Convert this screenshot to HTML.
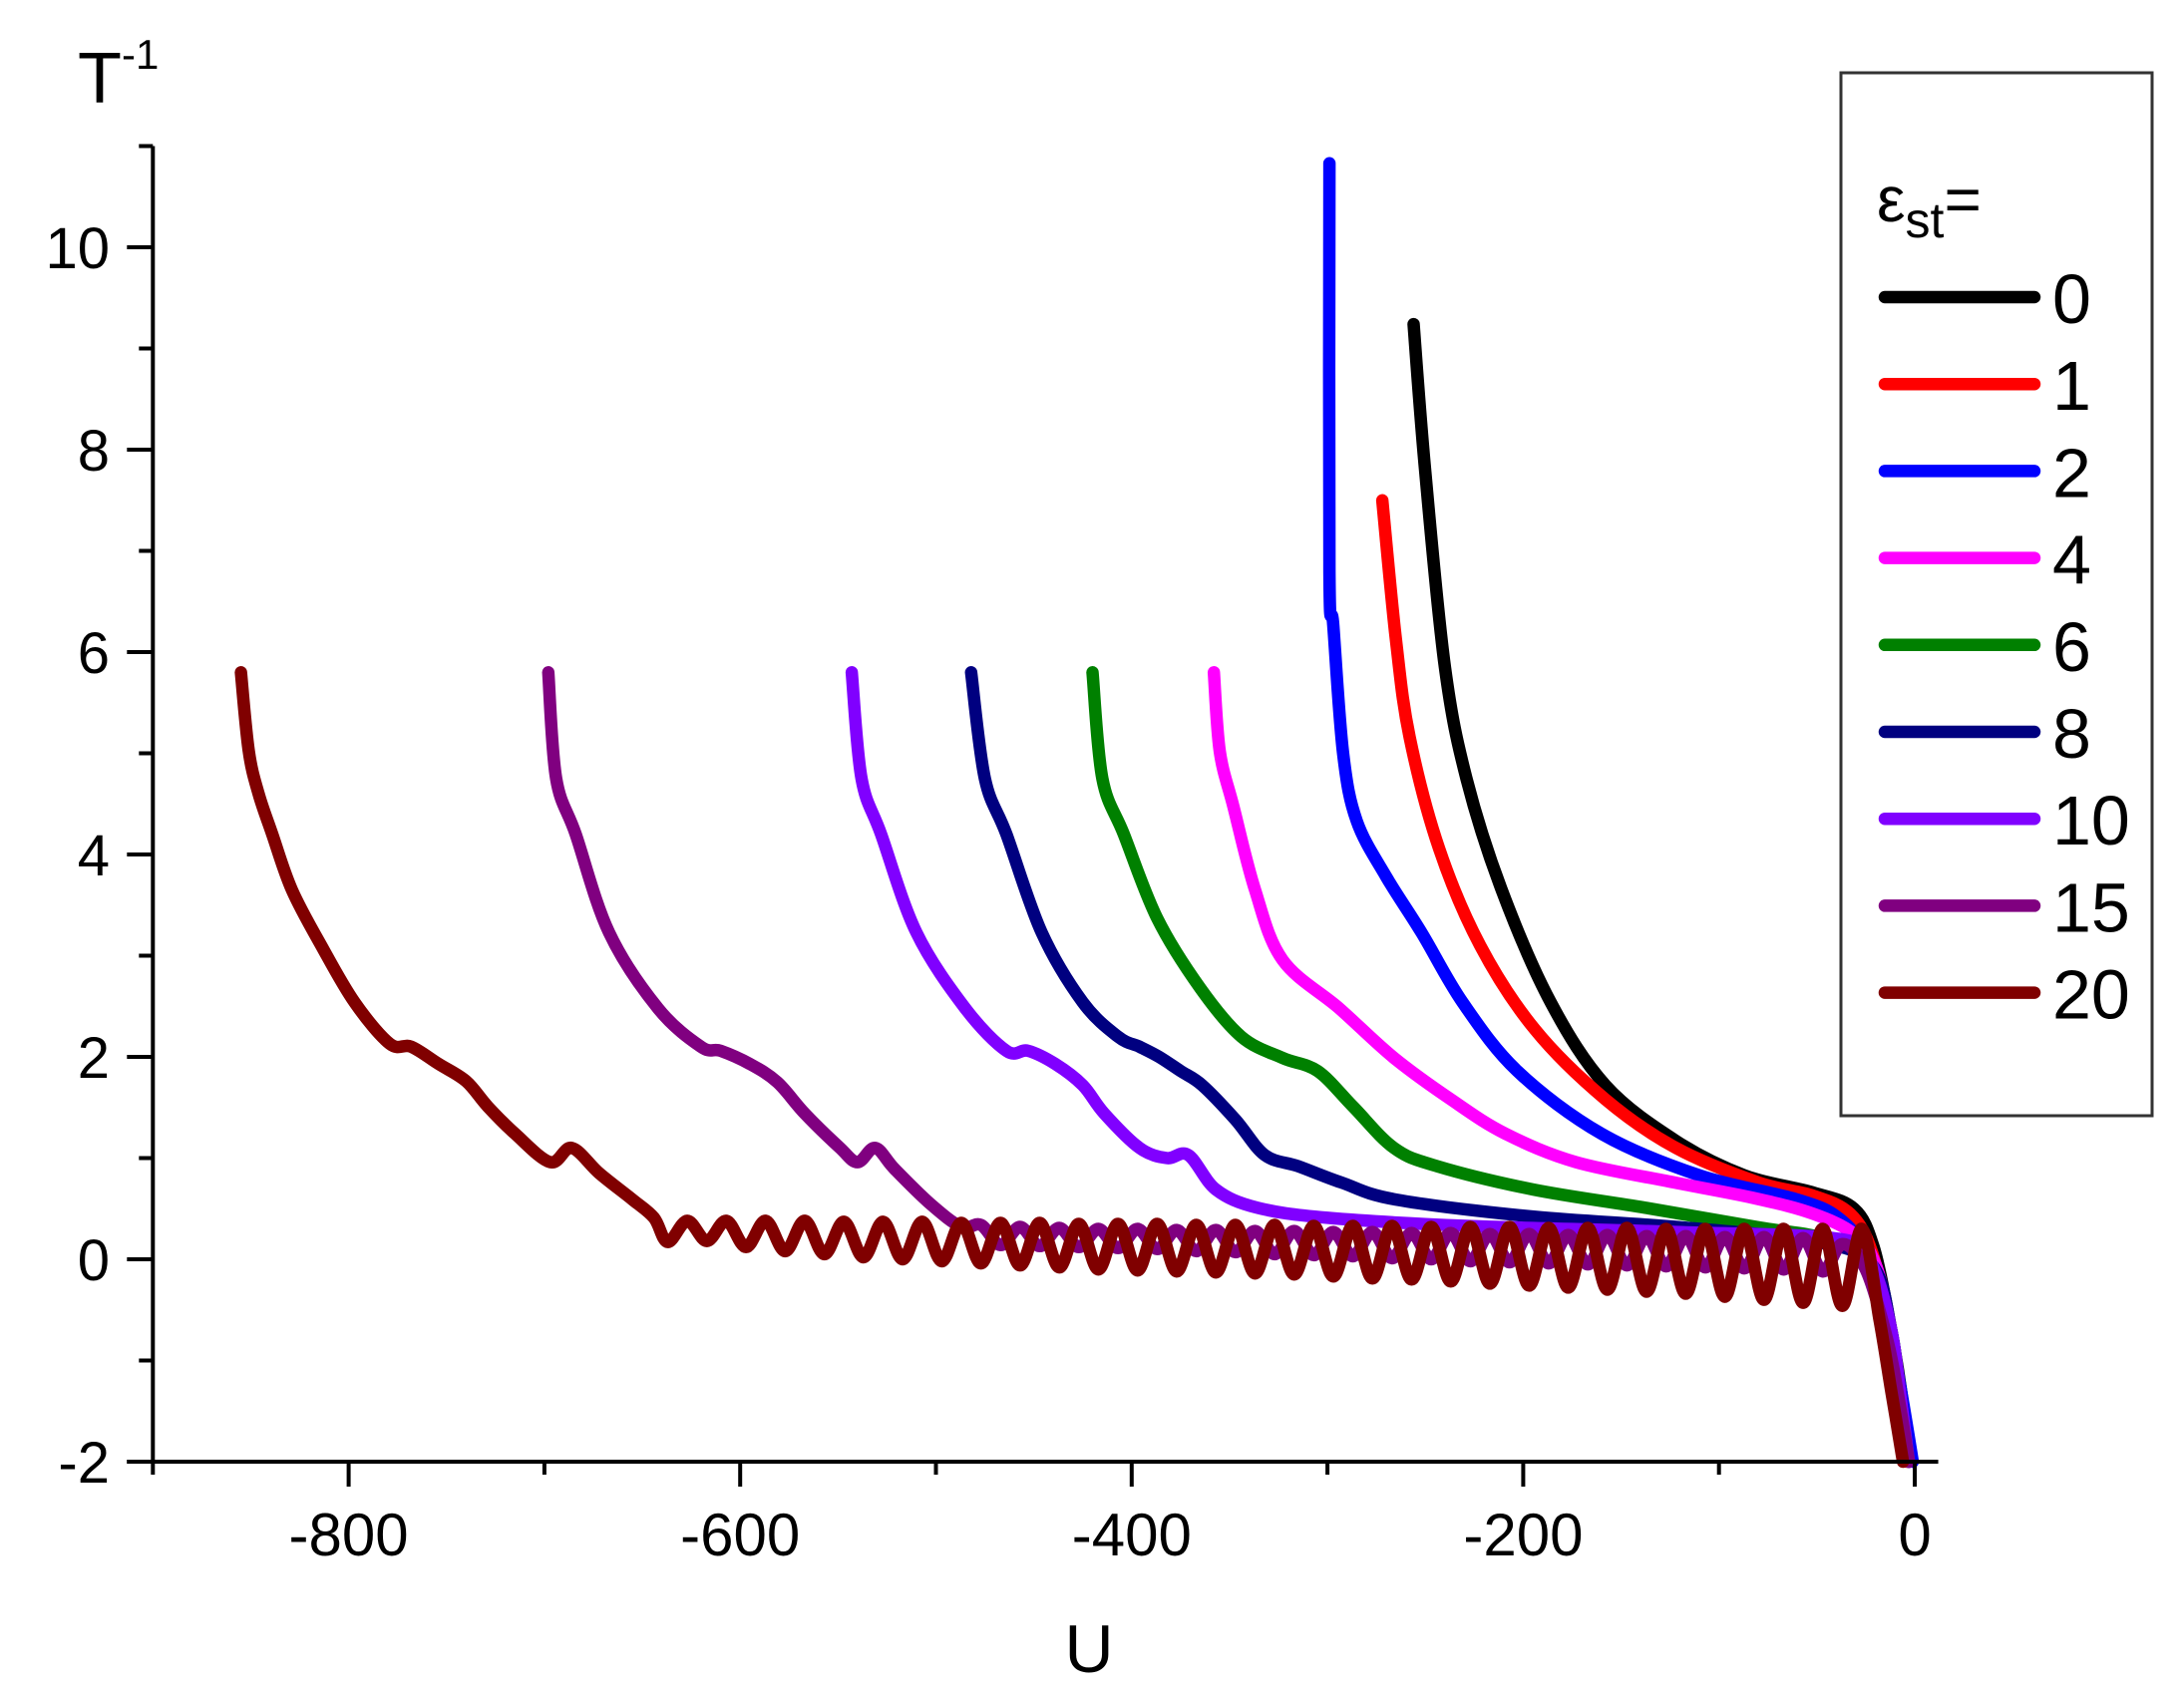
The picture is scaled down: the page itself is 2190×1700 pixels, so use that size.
<!DOCTYPE html>
<html><head><meta charset="utf-8"><style>
html,body{margin:0;padding:0;background:#fff;}
svg{display:block;font-family:"Liberation Sans",Arial,sans-serif;}
</style></head><body>
<svg id="chart" width="2190" height="1700" viewBox="0 0 2190 1700" xmlns="http://www.w3.org/2000/svg">
<rect width="2190" height="1700" fill="#fff"/>
<g id="series"></g>
<g id="axes"></g>
<g id="legend"></g>
</svg>
<script>
// ---- data ----
const xTicks = [-800, -600, -400, -200, 0];
const xMinor = [-900, -700, -500, -300, -100];
const yTicks = [-2, 0, 2, 4, 6, 8, 10];
const yMinor = [-1, 1, 3, 5, 7, 9];
const seriesLabels = ["0", "1", "2", "4", "6", "8", "10", "15", "20"];
const seriesColors = ["#000000", "#ff0000", "#0000ff", "#ff00ff", "#008000", "#000080", "#8000ff", "#800080", "#800000"];

const u0 = [-256,-250,-240,-229,-211,-186,-158,-122,-87,-52,-31,-21,-13,-7,-3];
const t0 = [9.24,7.77,5.85,4.75,3.65,2.54,1.72,1.17,0.83,0.66,0.5,0.12,-0.6,-1.3,-2];
const u1 = [-272,-265,-258,-243,-222,-194,-158,-122,-80,-52,-33,-22,-14,-8,-4];
const t1 = [7.5,6.12,5.16,4.06,3.1,2.27,1.58,1.1,0.76,0.63,0.45,0.08,-0.62,-1.3,-2];
const u2 = [-299,-299,-297,-292,-285,-270,-252,-231,-203,-160,-110,-60,-39,-25,-14,-7,-1];
const t2 = [10.83,6.8,6.26,5.0,4.33,3.78,3.23,2.54,1.86,1.24,0.83,0.59,0.41,0.07,-0.6,-1.3,-2];
const u4 = [-358,-355,-348,-337,-323,-294,-266,-237,-209,-173,-123,-81,-52,-31,-20,-12,-7,-3];
const t4 = [5.8,5.02,4.47,3.65,2.96,2.48,1.99,1.58,1.24,0.96,0.76,0.6,0.45,0.25,-0.05,-0.7,-1.4,-2];
const u6 = [-420,-415,-404,-387,-365,-344,-323,-305,-287,-266,-244,-195,-138,-81,-45,-22,-12,-7,-3];
const t6 = [5.8,4.75,4.2,3.37,2.68,2.2,1.99,1.86,1.51,1.1,0.92,0.69,0.51,0.32,0.2,-0.05,-0.7,-1.4,-2];
const u8 = [-482,-475,-464,-446,-425,-407,-396,-386,-375,-364,-347,-332,-315,-293,-265,-194,-122,-52,-22,-12,-7,-3];
const t8 = [5.8,4.75,4.2,3.23,2.54,2.2,2.1,2.0,1.86,1.72,1.38,1.03,0.92,0.76,0.59,0.42,0.32,0.18,-0.05,-0.7,-1.4,-2];
const u10 = [-543,-538,-528,-510,-485,-464,-453,-439,-425,-414,-396,-382,-371,-357,-336,-300,-229,-122,-38,-22,-12,-7,-3];
const t10 = [5.8,4.75,4.2,3.23,2.48,2.06,2.06,1.93,1.72,1.44,1.1,1.0,1.03,0.69,0.51,0.41,0.33,0.27,0.2,-0.05,-0.7,-1.4,-2];
const u15 = [-698,-694,-684,-667,-642,-620,-610,-595,-581,-567,-549,-540,-531,-521,-503,-487,-477,-467,-457,-447,-437,-427,-417,-407,-397,-387,-377,-367,-357,-347,-337,-327,-317,-307,-297,-287,-277,-267,-257,-247,-237,-227,-217,-207,-197,-187,-177,-167,-157,-147,-137,-127,-117,-107,-97,-87,-77,-67,-57,-47,-37,-25,-14,-8,-3];
const t15 = [5.8,4.75,4.2,3.23,2.48,2.1,2.06,1.93,1.75,1.44,1.1,0.96,1.1,0.89,0.55,0.32,0.34,0.14,0.32,0.13,0.31,0.12,0.3,0.11,0.3,0.1,0.29,0.08,0.29,0.07,0.28,0.05,0.28,0.04,0.27,0.03,0.27,0.01,0.26,0.0,0.26,-0.02,0.25,-0.03,0.25,-0.04,0.24,-0.05,0.24,-0.06,0.23,-0.07,0.23,-0.08,0.22,-0.09,0.22,-0.1,0.21,-0.12,0.15,-0.1,-0.8,-1.4,-2];
const u20 = [-855,-851,-846,-839,-829,-814,-797,-779,-768,-754,-740,-729,-715,-697,-686,-672,-655,-644,-637,-627,-617,-607,-597,-587,-577,-567,-557,-547,-537,-527,-517,-507,-497,-487,-477,-467,-457,-447,-437,-427,-417,-407,-397,-387,-377,-367,-357,-347,-337,-327,-317,-307,-297,-287,-277,-267,-257,-247,-237,-227,-217,-207,-197,-187,-177,-167,-157,-147,-137,-127,-117,-107,-97,-87,-77,-67,-57,-47,-37,-27,-18,-12,-6];
const t20 = [5.8,5.02,4.6,4.2,3.65,3.1,2.54,2.13,2.1,1.93,1.76,1.51,1.24,0.96,1.1,0.85,0.59,0.41,0.17,0.38,0.18,0.38,0.12,0.38,0.08,0.38,0.05,0.37,0.02,0.37,0.0,0.37,-0.02,0.36,-0.04,0.36,-0.06,0.36,-0.08,0.35,-0.1,0.35,-0.11,0.35,-0.12,0.34,-0.13,0.34,-0.14,0.34,-0.15,0.33,-0.17,0.33,-0.19,0.33,-0.2,0.32,-0.22,0.32,-0.24,0.32,-0.26,0.31,-0.28,0.31,-0.3,0.31,-0.32,0.3,-0.34,0.3,-0.37,0.3,-0.4,0.3,-0.43,0.3,-0.46,0.3,-0.6,-1.3,-2];

const seriesU = [u0,u1,u2,u4,u6,u8,u10,u15,u20];
const seriesT = [t0,t1,t2,t4,t6,t8,t10,t15,t20];

// ---- axes mapping ----
const X0 = 1920, XK = 1.963;
const Y0 = 1263, YK = 101.5;
const xs = u => X0 + u * XK;
const ys = t => Y0 - t * YK;
const NS = "http://www.w3.org/2000/svg";
function mk(tag, attrs, parent){
  const e = document.createElementNS(NS, tag);
  for (const k in attrs) e.setAttribute(k, attrs[k]);
  parent.appendChild(e);
  return e;
}
function smoothPath(pts){
  let d = "M" + pts[0][0].toFixed(1) + "," + pts[0][1].toFixed(1);
  for (let i = 0; i < pts.length - 1; i++){
    const p0 = pts[i-1] || pts[i], p1 = pts[i], p2 = pts[i+1], p3 = pts[i+2] || p2;
    const c1 = [p1[0] + (p2[0]-p0[0])/6, p1[1] + (p2[1]-p0[1])/6];
    const c2 = [p2[0] - (p3[0]-p1[0])/6, p2[1] - (p3[1]-p1[1])/6];
    d += " C" + c1[0].toFixed(1) + "," + c1[1].toFixed(1) + " " + c2[0].toFixed(1) + "," + c2[1].toFixed(1) + " " + p2[0].toFixed(1) + "," + p2[1].toFixed(1);
  }
  return d;
}

// ---- series ----
const sg = document.getElementById("series");
for (let s = 0; s < seriesU.length; s++){
  const pts = seriesU[s].map((u, i) => [xs(u), ys(seriesT[s][i])]);
  const p = mk("path", {d: smoothPath(pts), fill: "none", stroke: seriesColors[s], "stroke-width": 12.5, "stroke-linejoin": "round", "stroke-linecap": "round"}, sg);
  
  
}

// ---- axes ----
const ag = document.getElementById("axes");
const xLeft = xs(-900), xRight = xs(12), yBot = ys(-2), yTop = ys(11);
const yAxis = mk("line", {x1: xLeft, y1: yTop, x2: xLeft, y2: yBot, stroke: "#000", "stroke-width": 4}, ag);


const xAxis = mk("line", {x1: xLeft - 26, y1: yBot, x2: xRight, y2: yBot, stroke: "#000", "stroke-width": 4}, ag);


mk("line", {x1: xLeft - 14, y1: yTop, x2: xLeft, y2: yTop, stroke: "#000", "stroke-width": 4}, ag);
xTicks.forEach(v => {
  const t = mk("line", {x1: xs(v), y1: yBot, x2: xs(v), y2: yBot + 25, stroke: "#000", "stroke-width": 4}, ag);
  
  
  const l = mk("text", {x: xs(v), y: yBot + 94, "text-anchor": "middle", "font-size": 60}, ag);
  l.textContent = v;
  
  
});
xMinor.forEach(v => {
  const t = mk("line", {x1: xs(v), y1: yBot, x2: xs(v), y2: yBot + 13, stroke: "#000", "stroke-width": 4}, ag);
  
  
});
yTicks.forEach(v => {
  const t = mk("line", {x1: xLeft - 26, y1: ys(v), x2: xLeft, y2: ys(v), stroke: "#000", "stroke-width": 4}, ag);
  
  
  const l = mk("text", {x: 110, y: ys(v) + 21, "text-anchor": "end", "font-size": 58}, ag);
  l.textContent = v;
  
  
});
yMinor.forEach(v => {
  const t = mk("line", {x1: xLeft - 14, y1: ys(v), x2: xLeft, y2: ys(v), stroke: "#000", "stroke-width": 4}, ag);
  
  
});
const yt = mk("text", {x: 78, y: 103, "font-size": 72}, ag);


yt.innerHTML = 'T<tspan font-size="42" dy="-34">-1</tspan>';
const xt = mk("text", {x: 1092, y: 1677, "text-anchor": "middle", "font-size": 68}, ag);
xt.textContent = "U";



// ---- legend ----
const lg = document.getElementById("legend");
const box = mk("rect", {x: 1846, y: 73, width: 312, height: 1046, fill: "none", stroke: "#333", "stroke-width": 3}, lg);


const lt = mk("text", {x: 1882, y: 222, "font-size": 64}, lg);
lt.innerHTML = 'ε<tspan font-size="50" dy="16">st</tspan><tspan dy="-16">=</tspan>';


seriesLabels.forEach((lab, i) => {
  const y = 298 + i * 87.2;
  const ln = mk("line", {x1: 1890, y1: y, x2: 2040, y2: y, stroke: seriesColors[i], "stroke-width": 12.5, "stroke-linecap": "round"}, lg);
  
  
  const tx = mk("text", {x: 2058, y: y + 26, "font-size": 70}, lg);
  tx.textContent = lab;
  
  
});
</script>
</body></html>
